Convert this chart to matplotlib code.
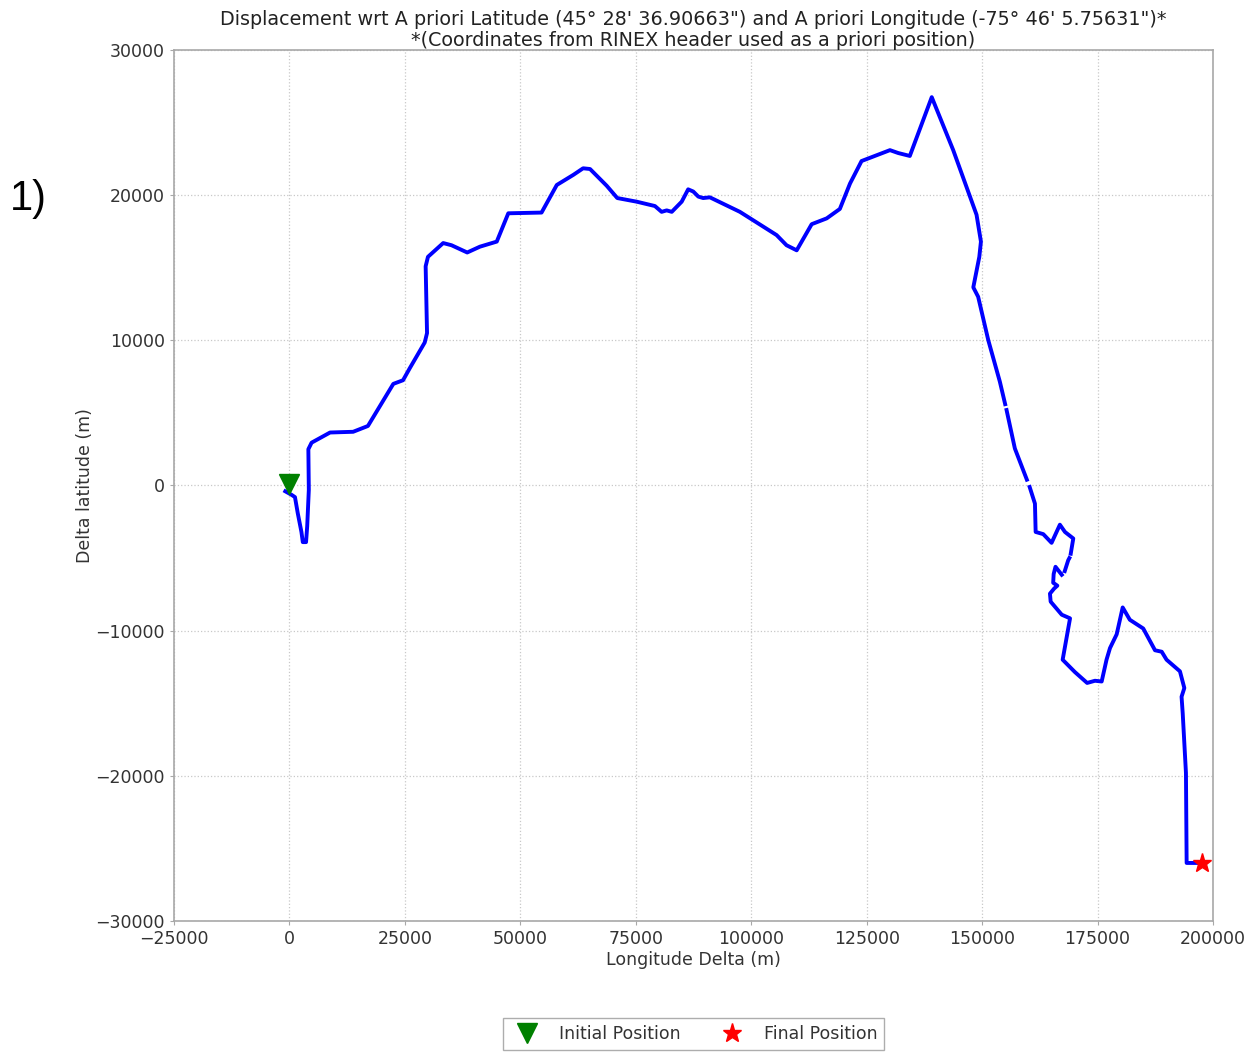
import matplotlib
matplotlib.use('Agg')
import matplotlib.pyplot as plt
import numpy as np

nan = np.nan

# track (metres relative to the a priori position)
# nan marks the short gaps in the recorded track
lon_delta = [-900, 500, 1200, 1800, 2600, 2900, 3600, 3850, 4200, 4100, 4800,
             8800, 13800, 17000, 22500, 24600, 26100, 29300, 29800, 29500, 30000,
             33300, 35100, 38500, 41250, 44900, 47400, 54600, 57900, 61500, 63600,
             65100, 68700, 71000, 75200, 79150, 80600, 81700, 82800, 84950, 86350,
             87450, 88550, 89600, 91050, 97550, 105500, 107650, 109850, 113100,
             116350, 119200, 121400, 123900, 130050, 131850, 134350, 139100,
             143750, 148800, 149750, 149400, 148100, 149150, 151350, 153850,
             155000, nan, 155300, 157100, 159700, nan, 160300, 161450, 161600,
             163250, 165050, 166850, 167950, 169750, 169200, nan, 168900, 168650,
             167900, nan, 167250, 165900, 165500, 165400, 166300,
             165600, 164700, 164850, 167250, 169050, 167450, 170100, 172750,
             174450, 175900, 176950, 177700, 179150, 180450, 182000, 184900,
             187450, 188900, 189950, 192850, 193800, 193200, 193450, 194150,
             194300, 195700, 197550]
lat_delta = [-400, -650, -800, -1900, -3200, -3900, -3900, -2800, -300, 2500, 2950,
             3650, 3700, 4100, 7000, 7250, 8100, 9850, 10500, 15100, 15750,
             16700, 16550, 16050, 16450, 16800, 18750, 18800, 20700, 21400, 21850,
             21800, 20650, 19800, 19550, 19250, 18850, 18950, 18850, 19550, 20400,
             20250, 19900, 19800, 19850, 18850, 17250, 16550, 16200, 18000,
             18400, 19050, 20800, 22350, 23100, 22900, 22700, 26750,
             23100, 18650, 16800, 15750, 13650, 13000, 10000, 7150,
             5600, nan, 5200, 2550, 400, nan, -100, -1250, -3200,
             -3350, -3950, -2700, -3200, -3650, -4700, nan, -5000, -5150,
             -5900, nan, -6150, -5600, -6100, -6700, -6900,
             -7100, -7450, -8000, -8900, -9150, -12000, -12850, -13600,
             -13450, -13500, -12000, -11200, -10250, -8400, -9250, -9850,
             -11350, -11450, -12000, -12800, -13950, -14550, -15700, -19800,
             -26000, -26000, -26000]
initial_pos = (0, 100)
final_pos = (197550, -26000)

fig = plt.figure(figsize=(12.58, 10.52), dpi=100)
ax = fig.add_axes([0.1383, 0.1245, 0.8259, 0.828])

ax.plot(lon_delta, lat_delta, color='blue', lw=2.8, zorder=2)
ax.plot(*initial_pos, marker='v', color='green', ms=14, ls='none',
        label='Initial Position', zorder=3)
ax.plot(*final_pos, marker='*', color='red', ms=14, ls='none',
        label='Final Position', zorder=3)

ax.set_xlim(-25000, 200000)
ax.set_ylim(-30000, 30000)
ax.set_xticks(np.arange(-25000, 200001, 25000))
ax.set_yticks(np.arange(-30000, 30001, 10000))
ax.grid(True, ls=':', color='#c8c8c8', lw=0.9)
for s in ax.spines.values():
    s.set_color('#a8a8a8')
    s.set_linewidth(1.2)
ax.tick_params(labelsize=12.5, colors='#a8a8a8', labelcolor='#333333', length=3)

ax.set_title('Displacement wrt A priori Latitude (45° 28\' 36.90663") and A priori '
             'Longitude (-75° 46\' 5.75631")*\n*(Coordinates from RINEX header used '
             'as a priori position)', fontsize=13.8, color='#222222', pad=2,
             linespacing=1.15)
ax.set_xlabel('Longitude Delta (m)', fontsize=12.5, color='#333333', labelpad=2)
ax.set_ylabel('Delta latitude (m)', fontsize=12.5, color='#333333', labelpad=1)

fig.legend(loc='upper center', bbox_to_anchor=(0.5513, 0.0323), ncol=2,
           fontsize=12.5, fancybox=False, edgecolor='#999999', numpoints=1,
           labelcolor='#333333', borderaxespad=0)

fig.text(0.008, 0.8006, '1)', fontsize=30, family='Liberation Sans')

fig.savefig('out.png', dpi=100)
